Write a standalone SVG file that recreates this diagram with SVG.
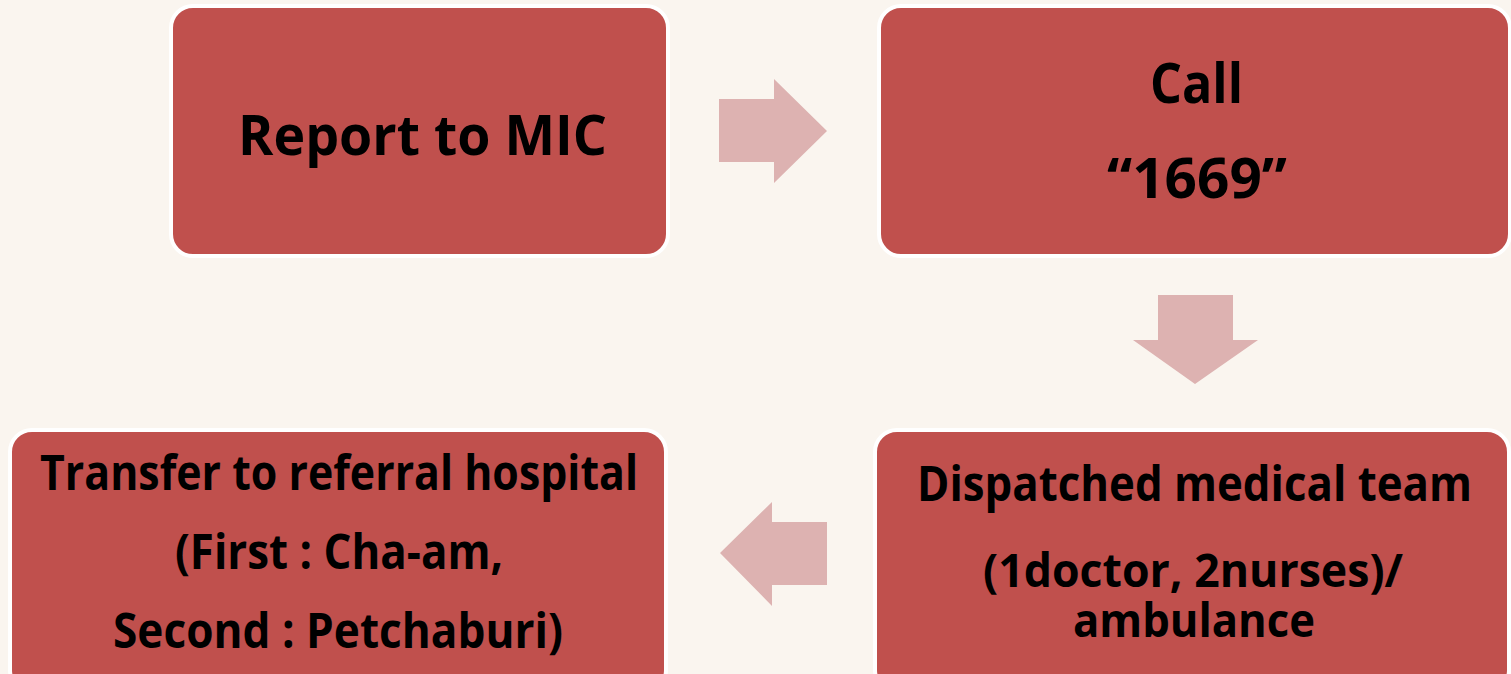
<svg xmlns="http://www.w3.org/2000/svg" width="1511" height="674" viewBox="0 0 1511 674">
<style>
.box{fill:#C0504D;stroke:#FFFFFF;stroke-width:4}
.arr{fill:#DDB2B1}
.t{font-family:"Open Sans","Liberation Sans",sans-serif;font-weight:bold;fill:#000;text-anchor:middle}
.big{font-size:56px}
.sm{font-size:48px}
.xs{font-size:46px}
</style>
<rect width="1511" height="674" fill="#FAF5EF"/>
<g id="connectors">
<polygon class="arr" points="719,99 774,99 774,79 827,131 774,183 774,162 719,162"/>
<polygon class="arr" points="1158,295 1233,295 1233,340 1258,340 1195,384 1133,340 1158,340"/>
<polygon class="arr" points="827,522 772,522 772,502 720,553 772,606 772,585 827,585"/>
</g>
<g id="node-report">
<rect class="box" x="171" y="6" width="497" height="250" rx="22"/>
<text class="t big" x="422.5" y="155" textLength="369" lengthAdjust="spacingAndGlyphs">Report to MIC</text>
</g>
<g id="node-call">
<rect class="box" x="879" y="6" width="631" height="250" rx="22"/>
<text class="t big" x="1196.5" y="103" textLength="93" lengthAdjust="spacingAndGlyphs">Call</text>
<text class="t big" x="1197" y="198" textLength="180" lengthAdjust="spacingAndGlyphs">“1669”</text>
</g>
<g id="node-dispatch">
<rect class="box" x="875" y="430" width="634" height="262" rx="22"/>
<text class="t sm" x="1194.5" y="501" textLength="555" lengthAdjust="spacingAndGlyphs">Dispatched medical team</text>
<text class="t xs" x="1193" y="587" textLength="420" lengthAdjust="spacingAndGlyphs">(1doctor, 2nurses)/</text>
<text class="t xs" x="1194" y="637" textLength="242" lengthAdjust="spacingAndGlyphs">ambulance</text>
</g>
<g id="node-transfer">
<rect class="box" x="10" y="430" width="656" height="262" rx="22"/>
<text class="t sm" x="339" y="490" textLength="598" lengthAdjust="spacingAndGlyphs">Transfer to referral hospital</text>
<text class="t sm" x="339" y="569" textLength="328" lengthAdjust="spacingAndGlyphs">(First : Cha-am,</text>
<text class="t sm" x="338" y="648" textLength="450" lengthAdjust="spacingAndGlyphs">Second : Petchaburi)</text>
</g>
</svg>
